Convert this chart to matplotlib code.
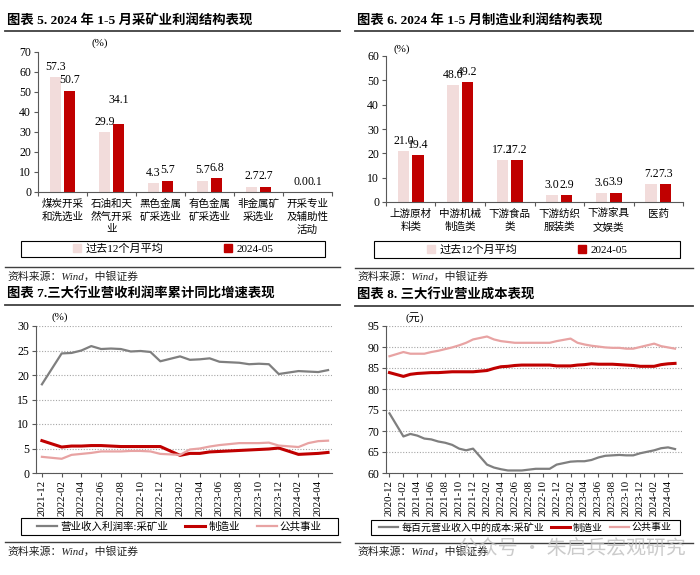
import numpy as np
import pandas as pd
import matplotlib
matplotlib.use('Agg')
import matplotlib.pyplot as plt
from matplotlib.patches import Patch, Rectangle
from matplotlib.lines import Line2D

plt.rcParams['font.family'] = ['Liberation Serif', 'Noto Sans CJK SC']
plt.rcParams['axes.unicode_minus'] = False

RED = '#C00000'
PINK_BAR = '#F2DCDB'
PINK_LINE = '#E8A3A3'
GRAY = '#7F7F7F'
AXC = '#595959'

# ---- bar data ----
mine_cats = ['煤炭开采\n和洗选业', '石油和天\n然气开采\n业', '黑色金属\n矿采选业',
             '有色金属\n矿采选业', '非金属矿\n采选业', '开采专业\n及辅助性\n活动']
mine_avg = [57.3, 29.9, 4.3, 5.7, 2.7, 0.0]
mine_may = [50.7, 34.1, 5.7, 6.8, 2.7, 0.1]

manu_cats = ['上游原材\n料类', '中游机械\n制造类', '下游食品\n类',
             '下游纺织\n服装类', '下游家具\n文娱类', '医药']
manu_avg = [21.0, 48.0, 17.2, 3.0, 3.6, 7.2]
manu_may = [19.4, 49.2, 17.2, 2.9, 3.9, 7.3]

bar_labels = ['过去12个月平均', '2024-05']

# ---- line data (cumulative, no January) ----
m7 = [p for p in pd.period_range('2021-12', '2024-05', freq='M') if p.month != 1]
m7_mine = [18.1, 24.4, 24.5, 25.0, 25.9, 25.3, 25.4, 25.3, 24.8, 24.9, 24.7, 22.8,
           23.8, 23.1, 23.2, 23.4, 22.7, 22.6, 22.5, 22.2, 22.3, 22.2, 20.2,
           20.8, 20.7, 20.6, 21.0]
m7_manu = [6.6, 5.3, 5.5, 5.5, 5.6, 5.6, 5.5, 5.4, 5.4, 5.4, 5.4, 5.4,
           3.6, 4.0, 4.0, 4.3, 4.4, 4.5, 4.6, 4.7, 4.8, 4.9, 5.1,
           3.8, 3.9, 4.0, 4.2]
m7_util = [3.3, 2.9, 3.7, 3.9, 4.1, 4.4, 4.4, 4.4, 4.5, 4.5, 4.4, 3.9,
           3.7, 4.8, 5.0, 5.4, 5.7, 5.9, 6.1, 6.1, 6.1, 6.2, 5.6,
           5.3, 6.1, 6.5, 6.6]
m7_labels = ['营业收入利润率:采矿业', '制造业', '公共事业']

m8 = [p for p in pd.period_range('2020-12', '2024-05', freq='M') if p.month != 1]
m8_mine = [74.2,
           68.7, 69.3, 68.9, 68.2, 68.0, 67.5, 67.2, 66.7, 65.8, 65.4, 65.8,
           62.0, 61.3, 60.9, 60.6, 60.6, 60.6, 60.8, 61.0, 61.0, 61.0, 62.0,
           62.7, 62.8, 62.8, 63.1, 63.7, 64.1, 64.2, 64.3, 64.2, 64.2, 64.7,
           65.4, 65.9, 66.1, 65.7]
m8_manu = [83.9,
           83.0, 83.5, 83.7, 83.8, 83.9, 83.9, 84.0, 84.1, 84.1, 84.1, 84.1,
           84.4, 84.9, 85.3, 85.4, 85.6, 85.7, 85.7, 85.7, 85.7, 85.7, 85.5,
           85.5, 85.7, 85.8, 86.0, 85.9, 85.9, 85.9, 85.8, 85.7, 85.6, 85.4,
           85.4, 85.8, 86.0, 86.1]
m8_util = [87.8,
           88.8, 88.4, 88.4, 88.4, 88.8, 89.1, 89.5, 89.9, 90.4, 91.0, 91.8,
           92.5, 91.8, 91.4, 91.2, 91.0, 91.0, 91.0, 91.0, 91.0, 91.0, 91.4,
           92.0, 91.0, 90.6, 90.3, 90.1, 89.9, 89.8, 89.8, 89.6, 89.6, 90.0,
           90.8, 90.2, 89.9, 89.6]
m8_labels = ['每百元营业收入中的成本:采矿业', '制造业', '公共事业']

W, H = 700, 575
fig = plt.figure(figsize=(7, 5.75), dpi=100)


def fx(px):
    return px / W


def fy(py):
    return 1 - py / H


def add_ax(x0, y0, x1, y1):
    ax = fig.add_axes([fx(x0), fy(y1), fx(x1 - x0), (y1 - y0) / H])
    for s in ['top', 'right']:
        ax.spines[s].set_visible(False)
    for s in ['left', 'bottom']:
        ax.spines[s].set_color(AXC)
        ax.spines[s].set_linewidth(0.8)
    ax.tick_params(axis='y', length=3, width=0.8, color=AXC, labelsize=8.5, pad=2)
    return ax


def frame(x0, x1, y_title, y_rule, y_srule, y_src, title):
    fig.text(fx(x0 + 2), fy(y_title), title, fontsize=9.6, fontweight='bold',
             va='center', ha='left')
    fig.add_artist(Line2D([fx(x0), fx(x1)], [fy(y_rule)] * 2, color='#404040', lw=1.3))
    fig.add_artist(Line2D([fx(x0), fx(x1)], [fy(y_srule)] * 2, color='#404040', lw=1.0))
    fig.text(fx(x0 + 2), fy(y_src), '资料来源：Wind，中银证券', fontsize=7.8,
             style='italic', va='center', ha='left', color='#222222')


def legend_box(x0, y0, x1, y1, handles, labels, fs=8, **kw):
    fig.add_artist(Rectangle((fx(x0), fy(y1)), fx(x1 - x0), (y1 - y0) / H,
                             transform=fig.transFigure, fill=False,
                             edgecolor='black', lw=0.8))
    fig.legend(handles, labels, loc='center', ncol=len(labels), frameon=False,
               bbox_to_anchor=(fx((x0 + x1) / 2), fy((y0 + y1) / 2)),
               fontsize=fs, borderpad=0, **kw)


def bars(ax, cats, avg, may, ymax, lift=None):
    x = np.arange(len(cats))
    w = 0.23
    ax.bar(x - 0.143, avg, w, color=PINK_BAR)
    ax.bar(x + 0.143, may, w, color=RED)
    for i in range(len(cats)):
        for dx, v, k in [(-0.143, avg[i], 0), (0.143, may[i], 1)]:
            extra = lift.get((i, k), 0) if lift else 0
            ax.annotate('%.1f' % v, (x[i] + dx, v), xytext=(0, 3 + extra),
                        textcoords='offset points', ha='center', va='bottom',
                        fontsize=8.5)
    ax.set_xlim(-0.5, len(cats) - 0.5)
    ax.set_ylim(0, ymax)
    ax.set_yticks(np.arange(0, ymax + 1, 10))
    ax.set_xticks(x)
    ax.set_xticklabels(cats, fontsize=7.6, linespacing=1.35, va='top')
    ax.tick_params(axis='x', length=0, pad=5)
    ax.set_xticks(np.arange(-0.5, len(cats)), minor=True)
    ax.tick_params(axis='x', which='minor', length=3, width=0.8, color=AXC)


def lines(ax, months, series, colors, widths, ylim, step):
    start = months[0]
    idx = [(p.year - start.year) * 12 + p.month - start.month for p in months]
    for vals, c, lw in zip(series, colors, widths):
        ax.plot(idx, vals, color=c, lw=lw, solid_joinstyle='round')
    allm = pd.period_range(start, months[-1], freq='M')
    ticks = list(range(0, len(allm), 2))
    ax.set_xticks(ticks)
    ax.set_xticklabels([allm[t].strftime('%Y-%m') for t in ticks], rotation=90,
                       fontsize=7.8)
    ax.tick_params(axis='x', length=3, width=0.8, color=AXC, pad=2)
    ax.set_ylim(*ylim)
    ax.set_yticks(np.arange(ylim[0], ylim[1] + 0.1, step))
    ax.yaxis.grid(True, linestyle=(0, (1, 1.5)), color='#A6A6A6', lw=0.8)
    ax.set_axisbelow(True)


# ---- 图表 5 ----
frame(5, 340, 20, 31, 267, 277, '图表 5. 2024 年 1-5 月采矿业利润结构表现')
ax5 = add_ax(38, 52, 332, 192)
bars(ax5, mine_cats, mine_avg, mine_may, 70, lift={(1, 1): 10})
fig.text(fx(91), fy(43), '(%)', fontsize=8, va='center')
legend_box(21, 241, 325, 257,
           [Patch(color=PINK_BAR), Patch(color=RED)], bar_labels,
           handlelength=0.7, handleheight=0.7, handletextpad=0.4, columnspacing=5.5)

# ---- 图表 6 ----
frame(355, 693, 20, 31, 268, 277, '图表 6. 2024 年 1-5 月制造业利润结构表现')
ax6 = add_ax(386, 56, 683, 202)
bars(ax6, manu_cats, manu_avg, manu_may, 60)
fig.text(fx(393), fy(49), '(%)', fontsize=8, va='center')
legend_box(374, 241, 680, 258,
           [Patch(color=PINK_BAR), Patch(color=RED)], bar_labels,
           handlelength=0.7, handleheight=0.7, handletextpad=0.4, columnspacing=5.5)

# ---- 图表 7 ----
frame(5, 340, 294, 305, 542, 552, '图表 7.三大行业营收利润率累计同比增速表现')
ax7 = add_ax(36, 326, 332, 473)
lines(ax7, m7, [m7_mine, m7_manu, m7_util], [GRAY, RED, PINK_LINE],
      [1.6, 2.2, 1.6], (0, 30), 5)
ax7.set_xlim(-0.6, 29.4)
fig.text(fx(51), fy(317), '(%)', fontsize=8, va='center')
legend_box(21, 518, 338, 535,
           [Line2D([], [], color=c, lw=lw) for c, lw in
            zip([GRAY, RED, PINK_LINE], [1.6, 2.2, 1.6])], m7_labels, fs=7.6,
           handlelength=1.9, handletextpad=0.3, columnspacing=1.6)

# ---- 图表 8 ----
frame(355, 693, 295, 306, 543, 552, '图表 8. 三大行业营业成本表现')
ax8 = add_ax(386, 326, 682, 473)
lines(ax8, m8, [m8_mine, m8_manu, m8_util], [GRAY, RED, PINK_LINE],
      [1.6, 2.2, 1.6], (60, 95), 5)
ax8.set_xlim(-0.5, 42)
fig.text(fx(406), fy(318), '(元)', fontsize=8, va='center')
legend_box(371, 520, 680, 535,
           [Line2D([], [], color=c, lw=lw) for c, lw in
            zip([GRAY, RED, PINK_LINE], [1.6, 2.2, 1.6])], m8_labels, fs=7.2,
           handlelength=1.9, handletextpad=0.3, columnspacing=0.7)

# watermark
fig.text(fx(458), fy(548), '公众号 · 朱启兵宏观研究', fontsize=14.3, color='#BEBEBE',
         alpha=0.8, va='center', ha='left', family=['Noto Sans CJK SC'])

fig.savefig('out.png', dpi=100, facecolor='white')
